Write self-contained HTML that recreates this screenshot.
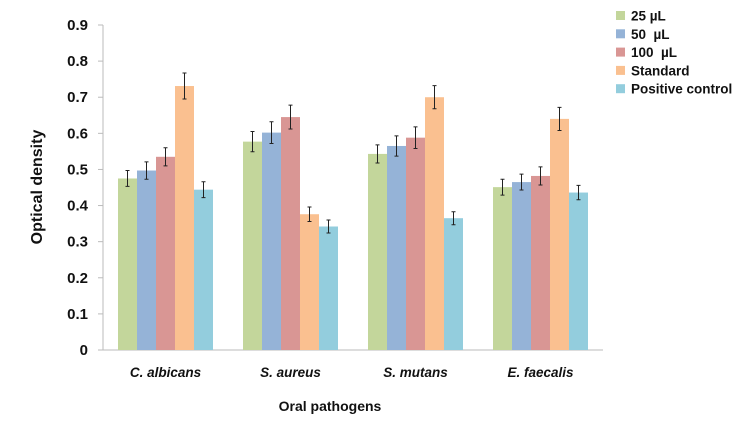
<!DOCTYPE html>
<html><head><meta charset="utf-8"><style>
body{margin:0;background:#fff;font-family:"Liberation Sans",sans-serif;}
svg text{font-family:"Liberation Sans",sans-serif;font-weight:bold;fill:#111;white-space:pre;}
</style></head><body>
<svg id="c" width="750" height="421"></svg>
<script>
const categories=["C. albicans","S. aureus","S. mutans","E. faecalis"];
const seriesNames=["25 µL","50  µL","100  µL","Standard","Positive control"];
const s25=[0.475,0.577,0.543,0.451];
const s50=[0.497,0.602,0.565,0.465];
const s100=[0.535,0.645,0.588,0.482];
const sStd=[0.731,0.376,0.700,0.640];
const sPos=[0.444,0.342,0.365,0.436];
const e25=[0.022,0.028,0.025,0.022];
const e50=[0.024,0.030,0.028,0.022];
const e100=[0.025,0.033,0.030,0.025];
const eStd=[0.036,0.020,0.032,0.032];
const ePos=[0.022,0.018,0.018,0.020];
const yTicks=[0,0.1,0.2,0.3,0.4,0.5,0.6,0.7,0.8,0.9];
const series=[s25,s50,s100,sStd,sPos];
const errs=[e25,e50,e100,eStd,ePos];
const colors=["#c3d69b","#95b3d7","#d99694","#fac090","#93cddd"];
const svg=document.getElementById('c');
const NS="http://www.w3.org/2000/svg";
const X0=103,X1=603,Y0=350,Y1=25,VMAX=0.9,BW=19;
const y=v=>Y0-(v/VMAX)*(Y0-Y1);
const band=(X1-X0)/categories.length;
const xc=i=>X0+band*(i+0.5);
function mk(t,a,p){const e=document.createElementNS(NS,t);for(const k in a)e.setAttribute(k,a[k]);(p||svg).appendChild(e);return e;}
let g=mk('g',{});


mk('line',{x1:X0,y1:Y1,x2:X0,y2:Y0,stroke:'#bbb'},g);
yTicks.forEach(v=>{
 mk('line',{x1:X0-5,y1:y(v),x2:X0,y2:y(v),stroke:'#bbb'},g);
 const t=mk('text',{x:88,y:y(v)+5,'text-anchor':'end','font-size':15},g);t.textContent=String(v);
 
 
});
let xa=mk('line',{x1:X0,y1:Y0,x2:X1,y2:Y0,stroke:'#bbb'});


categories.forEach((c,i)=>{
 const t=mk('text',{x:xc(i),y:377,'text-anchor':'middle','font-size':13.5,'font-style':'italic'});t.textContent=c;
 
 
 series.forEach((s,j)=>{
  const bx=xc(i)-2.5*BW+j*BW;
  const r=mk('rect',{x:bx,y:y(s[i]),width:BW,height:Y0-y(s[i]),fill:colors[j]});
  
  
  const cx=bx+BW/2,e=errs[j][i];
  const eb=mk('path',{d:`M${cx} ${y(s[i]+e)}V${y(s[i]-e)}M${cx-2} ${y(s[i]+e)}h4M${cx-2} ${y(s[i]-e)}h4`,stroke:'#222','stroke-width':1,fill:'none'});
  
  
 });
});
let yt=mk('text',{x:0,y:0,'text-anchor':'middle','font-size':16,transform:'translate(42,187) rotate(-90)'});yt.textContent='Optical density';


let xt=mk('text',{x:330,y:411,'text-anchor':'middle','font-size':14});xt.textContent='Oral pathogens';


seriesNames.forEach((n,j)=>{
 const ly=16+j*18.3;
 const le=mk('g',{});
 
 
 mk('rect',{x:616,y:ly-5,width:9,height:9,fill:colors[j]},le);
 const t=mk('text',{x:631,y:ly+4.5,'font-size':13.5},le);t.textContent=n;
});
</script>
</body></html>
